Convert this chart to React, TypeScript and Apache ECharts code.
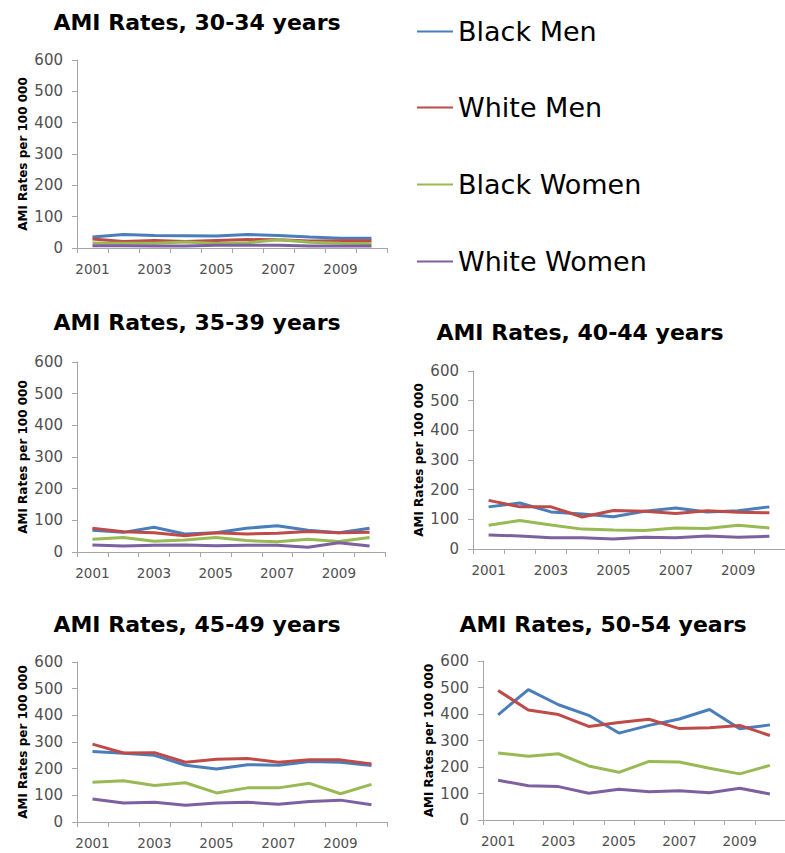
import React, { useEffect, useRef } from "react";
import * as echarts from "echarts";

const years = ["2001", "2002", "2003", "2004", "2005", "2006", "2007", "2008", "2009", "2010"];
const seriesNames = ["Black Men", "White Men", "Black Women", "White Women"];
const seriesColors = ["#4A7EBB", "#BE4B48", "#98B954", "#7D60A0"];
const ageGroups = ["30-34", "35-39", "40-44", "45-49", "50-54"];
const yTicks = [0, 100, 200, 300, 400, 500, 600];

// 30-34 years
const blackMen3034 = [35, 43, 40, 39, 38, 43, 40, 35, 31, 31];
const whiteMen3034 = [29, 21, 24, 21, 24, 27, 26, 22, 23, 23];
const blackWomen3034 = [16, 15, 15, 19, 14, 17, 26, 18, 15, 14];
const whiteWomen3034 = [7, 7, 6, 6, 9, 9, 9, 6, 6, 6];

// 35-39 years
const blackMen3539 = [69, 62, 78, 57, 61, 75, 83, 69, 61, 75];
const whiteMen3539 = [75, 64, 61, 51, 61, 57, 59, 65, 61, 62];
const blackWomen3539 = [40, 46, 34, 38, 46, 36, 32, 40, 33, 46];
const whiteWomen3539 = [22, 19, 21, 22, 20, 21, 21, 15, 29, 19];

// 40-44 years
const blackMen4044 = [142, 155, 125, 118, 109, 127, 138, 125, 129, 142];
const whiteMen4044 = [164, 142, 142, 108, 130, 127, 120, 129, 124, 122];
const blackWomen4044 = [80, 96, 81, 67, 64, 62, 71, 69, 80, 71];
const whiteWomen4044 = [47, 44, 38, 38, 34, 40, 38, 44, 40, 43];

// 45-49 years
const blackMen4549 = [264, 258, 250, 213, 199, 215, 213, 227, 224, 212];
const whiteMen4549 = [292, 259, 260, 224, 235, 238, 224, 233, 233, 218];
const blackWomen4549 = [149, 155, 137, 147, 109, 128, 128, 145, 106, 141];
const whiteWomen4549 = [86, 71, 74, 63, 71, 74, 67, 77, 82, 65];

// 50-54 years
const blackMen5054 = [397, 492, 435, 395, 328, 357, 381, 417, 344, 359];
const whiteMen5054 = [489, 415, 398, 353, 368, 380, 345, 348, 357, 319];
const blackWomen5054 = [253, 241, 250, 204, 180, 221, 219, 195, 174, 206];
const whiteWomen5054 = [150, 129, 126, 101, 116, 107, 110, 103, 120, 98];

const panelData = [
  [blackMen3034, whiteMen3034, blackWomen3034, whiteWomen3034],
  [blackMen3539, whiteMen3539, blackWomen3539, whiteWomen3539],
  [blackMen4044, whiteMen4044, blackWomen4044, whiteWomen4044],
  [blackMen4549, whiteMen4549, blackWomen4549, whiteWomen4549],
  [blackMen5054, whiteMen5054, blackWomen5054, whiteWomen5054],
];

// layout (pixels)
const panelLayout = [
  { left: 77, top: 60, width: 310, height: 188, titleX: 197, titleY: 22 },
  { left: 77, top: 362, width: 308, height: 190, titleX: 197, titleY: 322 },
  { left: 473, top: 371, width: 320, height: 178, titleX: 580, titleY: 332 },
  { left: 77, top: 662, width: 310, height: 160, titleX: 197, titleY: 624 },
  { left: 483, top: 661, width: 311, height: 159, titleX: 603, titleY: 624 },
];
const legendRows = [32, 108, 185, 262];

const FONT = "'DejaVu Sans', 'Liberation Sans', sans-serif";
const AXIS_COLOR = "#A6A6A6";
const LABEL_COLOR = "#505050";

export default function App() {
  const ref = useRef<HTMLDivElement>(null);

  useEffect(() => {
    if (!ref.current) return;
    const chart = echarts.init(ref.current, null, { renderer: "svg" });

    const grid: any[] = [];
    const xAxis: any[] = [];
    const yAxis: any[] = [];
    const series: any[] = [];
    const graphic: any[] = [];

    panelLayout.forEach((p, i) => {
      grid.push({ left: p.left, top: p.top, width: p.width, height: p.height, containLabel: false });
      xAxis.push({
        type: "category",
        gridIndex: i,
        data: years,
        boundaryGap: true,
        axisLine: { show: true, lineStyle: { color: AXIS_COLOR, width: 1 } },
        axisTick: { show: true, interval: 0, length: 5, lineStyle: { color: AXIS_COLOR } },
        axisLabel: { interval: 1, margin: 14, color: LABEL_COLOR, fontSize: 13.5, fontFamily: FONT },
        splitLine: { show: false },
      });
      yAxis.push({
        type: "value",
        gridIndex: i,
        min: yTicks[0],
        max: yTicks[yTicks.length - 1],
        interval: 100,
        name: "AMI Rates per 100 000",
        nameLocation: "middle",
        nameGap: 48,
        nameTextStyle: { fontFamily: FONT, fontSize: 12, fontWeight: "bold", color: "#000" },
        axisLine: { show: true, lineStyle: { color: AXIS_COLOR, width: 1 } },
        axisTick: { show: true, length: 5, lineStyle: { color: AXIS_COLOR } },
        axisLabel: { margin: 14, color: LABEL_COLOR, fontSize: 15, fontFamily: FONT },
        splitLine: { show: false },
      });
      seriesNames.forEach((name, s) => {
        series.push({
          type: "line",
          name,
          xAxisIndex: i,
          yAxisIndex: i,
          data: panelData[i][s],
          symbol: "none",
          showSymbol: false,
          lineStyle: { color: seriesColors[s], width: 3 },
          itemStyle: { color: seriesColors[s] },
          z: 2 + s,
        });
      });
      graphic.push({
        type: "text",
        x: p.titleX,
        y: p.titleY,
        style: {
          text: "AMI Rates, " + ageGroups[i] + " years",
          fill: "#000",
          font: "bold 22px " + FONT,
          align: "center",
          verticalAlign: "middle",
          textAlign: "center",
          textVerticalAlign: "middle",
        },
      });
    });

    const legend = seriesNames.map((name, s) => ({
      data: [{ name, icon: "rect" }],
      left: 417,
      top: legendRows[s] - 14,
      padding: 0,
      itemWidth: 36,
      itemHeight: 2,
      selectedMode: false,
      textStyle: { fontFamily: FONT, fontSize: 27, color: "#000", padding: [0, 0, 0, 0] },
    }));

    chart.setOption({
      animation: false,
      backgroundColor: "#ffffff",
      grid,
      xAxis,
      yAxis,
      series,
      legend,
      graphic,
    });

    return () => {
      chart.dispose();
    };
  }, []);

  return (
    <div
      ref={ref}
      style={{ position: "fixed", left: 0, top: 0, width: 785, height: 853, background: "#fff" }}
    />
  );
}
